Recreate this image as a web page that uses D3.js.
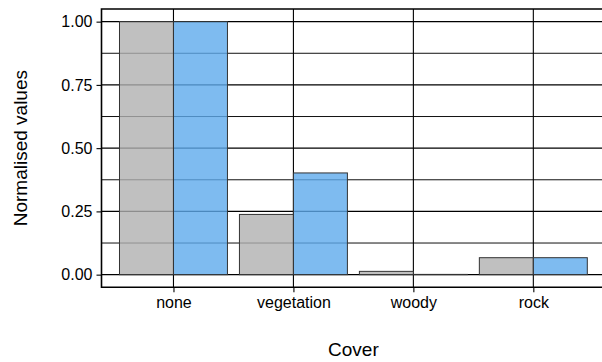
<!DOCTYPE html>
<html>
<head>
<meta charset="utf-8">
<script src="https://cdn.jsdelivr.net/npm/d3@7"></script>
<style>
  html, body { margin: 0; padding: 0; background: #fff; }
  svg { display: block; font-family: "Liberation Sans", Arial, Helvetica, sans-serif; }
</style>
</head>
<body>
<svg id="chart" width="602" height="362"></svg>
<script>
const categories = ["none", "vegetation", "woody", "rock"];
const seriesNames = ["A", "B"];
const seriesA = [1.00, 0.238, 0.013, 0.067];
const seriesB = [1.00, 0.402, 0.001, 0.067];
const yTicks = [0, 0.25, 0.5, 0.75, 1.0];
const yMinor = [0.125, 0.375, 0.625, 0.875];
const colors = ["#b0b0b0", "#5eaaec"];
const xTitle = "Cover";
const yTitle = "Normalised values";

(function () {
const svg = d3.select("#chart");
const pLeft = 101.5, pRight = 605.3, pTop = 9, pBottom = 287.3;

const x = d3.scalePoint().domain(categories).range([pLeft, pRight]).padding(0.6);
const step = x.step();
const inner = d3.scaleBand().domain(seriesNames).range([-0.45 * step, 0.45 * step]);
const y = d3.scaleLinear().domain([-0.05, 1.05]).range([pBottom, pTop]);

const data = [];
categories.forEach((c, i) => {
  data.push({ cat: c, s: "A", v: seriesA[i] });
  data.push({ cat: c, s: "B", v: seriesB[i] });
});

// grid
const g = svg.append("g");
g.selectAll(".minor").data(yMinor).join("line")
  .attr("x1", pLeft).attr("x2", pRight)
  .attr("y1", d => y(d)).attr("y2", d => y(d))
  .attr("stroke", "#111").attr("stroke-width", 1);
g.selectAll(".major").data(yTicks).join("line")
  .attr("x1", pLeft).attr("x2", pRight)
  .attr("y1", d => y(d)).attr("y2", d => y(d))
  .attr("stroke", "#000").attr("stroke-width", 1.1);
g.selectAll(".vmajor").data(categories).join("line")
  .attr("x1", d => x(d)).attr("x2", d => x(d))
  .attr("y1", pTop).attr("y2", pBottom)
  .attr("stroke", "#000").attr("stroke-width", 1.1);

// bars
svg.append("g").selectAll("rect").data(data).join("rect")
  .attr("x", d => x(d.cat) + inner(d.s))
  .attr("width", inner.bandwidth())
  .attr("y", d => y(Math.max(0, d.v)))
  .attr("height", d => Math.abs(y(0) - y(d.v)))
  .attr("fill", d => colors[seriesNames.indexOf(d.s)])
  .attr("fill-opacity", 0.8)
  .attr("stroke", "#333")
  .attr("stroke-width", 1);

// panel border (left, top, bottom)
svg.append("path")
  .attr("d", `M${pRight},${pTop}H${pLeft}V${pBottom}H${pRight}`)
  .attr("fill", "none").attr("stroke", "#000").attr("stroke-width", 1.6);

// y axis
const yAxis = svg.append("g").attr("transform", `translate(${pLeft},0)`)
  .call(d3.axisLeft(y).tickValues(yTicks).tickFormat(d3.format(".2f")).tickSize(5).tickPadding(4));
yAxis.select(".domain").remove();
yAxis.selectAll("line").attr("stroke", "#000").attr("stroke-width", 1.1);
yAxis.selectAll("text").attr("font-size", 16).attr("fill", "#000").attr("font-family", "Liberation Sans, Arial, sans-serif");

// x axis
const xAxis = svg.append("g").attr("transform", `translate(0,${pBottom})`)
  .call(d3.axisBottom(x).tickSize(5).tickPadding(4));
xAxis.select(".domain").remove();
xAxis.selectAll("line").attr("stroke", "#000").attr("stroke-width", 1.1);
xAxis.selectAll("text").attr("font-size", 16).attr("fill", "#000").attr("font-family", "Liberation Sans, Arial, sans-serif");

// titles
svg.append("text").attr("x", (pLeft + pRight) / 2).attr("y", 356)
  .attr("text-anchor", "middle").attr("font-size", 19).attr("fill", "#000").text(xTitle);
svg.append("text").attr("transform", `translate(27,${(pTop + pBottom) / 2}) rotate(-90)`)
  .attr("text-anchor", "middle").attr("font-size", 19).attr("fill", "#000").text(yTitle);
})();
</script>
</body>
</html>
